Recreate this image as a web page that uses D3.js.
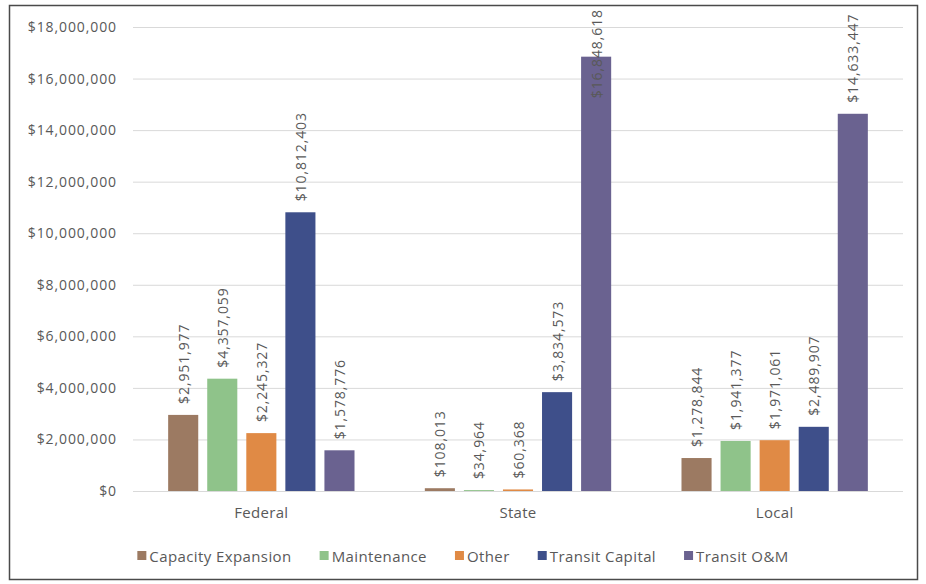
<!DOCTYPE html>
<html><head><meta charset="utf-8">
<script src="https://cdn.jsdelivr.net/npm/d3@7"></script>
<style>
body{margin:0;background:#fff;}
svg{display:block;font-family:"Open Sans",sans-serif;}
</style></head>
<body><svg id="c" width="926" height="584"></svg>
<script>
const categories = ["Federal", "State", "Local"];
const seriesNames = ["Capacity Expansion", "Maintenance", "Other", "Transit Capital", "Transit O&M"];
const capacityExpansion = [2951977, 108013, 1278844];
const maintenance = [4357059, 34964, 1941377];
const other = [2245327, 60368, 1971061];
const transitCapital = [10812403, 3834573, 2489907];
const transitOM = [1578776, 16848618, 14633447];
const yTicks = [0, 2000000, 4000000, 6000000, 8000000, 10000000, 12000000, 14000000, 16000000, 18000000];
const colors = ["#9c7a62", "#8fc38a", "#e08a45", "#3e4f8a", "#6a6290"];

const seriesValues = [capacityExpansion, maintenance, other, transitCapital, transitOM];

const svg = d3.select("#c");
const margin = {left: 133, right: 23, top: 27, bottom: 93};
const W = 926, H = 584;

svg.append("rect").attr("x", 9.5).attr("y", 5.5).attr("width", 908).attr("height", 574)
  .attr("fill", "#fff").attr("stroke", "#4a4a4a").attr("stroke-width", 1.5);

const x0 = d3.scaleBand().domain(categories).range([margin.left, W - margin.right]).paddingInner(0).paddingOuter(0);
const x1 = d3.scaleBand().domain(seriesNames).range([0, x0.bandwidth()]).paddingInner(0.23).paddingOuter(0.9);
const y = d3.scaleLinear().domain([0, 18000000]).range([H - margin.bottom, margin.top]);

const fmt = d3.format("$,");

// gridlines + y labels
const yAxis = d3.axisLeft(y).tickValues(yTicks).tickFormat(fmt).tickSize(-(W - margin.left - margin.right)).tickPadding(16);
const ga = svg.append("g").attr("transform", `translate(${margin.left},0)`).call(yAxis);
ga.select(".domain").remove();
ga.selectAll(".tick line").attr("stroke", "#d9d9d9").attr("stroke-width", 1);
ga.selectAll(".tick text").attr("fill", "#595959").style("font-size", "14px").style("letter-spacing", "0.9px").style("font-family", "'Open Sans',sans-serif");

// x labels
const xAxis = d3.axisBottom(x0).tickSize(0).tickPadding(16);
const gx = svg.append("g").attr("transform", `translate(0,${H - margin.bottom})`).call(xAxis);
gx.select(".domain").remove();
gx.selectAll(".tick text").attr("fill", "#595959").style("font-size", "15px").style("letter-spacing", "0.3px").style("font-family", "'Open Sans',sans-serif");

// bars
const data = [];
categories.forEach((c, ci) => seriesNames.forEach((s, si) => data.push({c, s, si, v: seriesValues[si][ci]})));

svg.append("g").selectAll("rect").data(data).join("rect")
  .attr("x", d => x0(d.c) + x1(d.s))
  .attr("y", d => y(d.v))
  .attr("width", x1.bandwidth())
  .attr("height", d => y(0) - y(d.v))
  .attr("fill", d => colors[d.si]);

// data labels
const labels = svg.append("g").selectAll("text").data(data).join("text")
  .attr("dominant-baseline", "central")
  .attr("text-anchor", "start")
  .attr("fill", "#595959")
  .style("font-size", "14px")
  .style("letter-spacing", "0.9px")
  .text(d => fmt(d.v));
labels.each(function (d) {
  const len = this.getComputedTextLength();
  let start = y(d.v) - 11;
  if (start - len < 9) start = 9 + len;
  d3.select(this).attr("transform", `translate(${x0(d.c) + x1(d.s) + x1.bandwidth() / 2},${start}) rotate(-90)`);
});

// legend
const lg = svg.append("g").attr("transform", "translate(0,556)");
const items = lg.selectAll("g").data(seriesNames).join("g");
items.append("rect").attr("width", 9).attr("height", 9).attr("y", -5).attr("fill", (d, i) => colors[i]);
items.append("text").attr("x", 12).attr("dominant-baseline", "central").attr("fill", "#595959")
  .style("font-size", "15px").style("letter-spacing", "0.4px").text(d => d);
let xpos = 0;
const gap = 28;
const widths = [];
items.each(function () { widths.push(this.getBBox().width); });
const total = d3.sum(widths) + gap * (widths.length - 1);
xpos = 463 - total / 2;
items.each(function (d, i) {
  d3.select(this).attr("transform", `translate(${xpos},0)`);
  xpos += widths[i] + gap;
});
</script></body></html>
